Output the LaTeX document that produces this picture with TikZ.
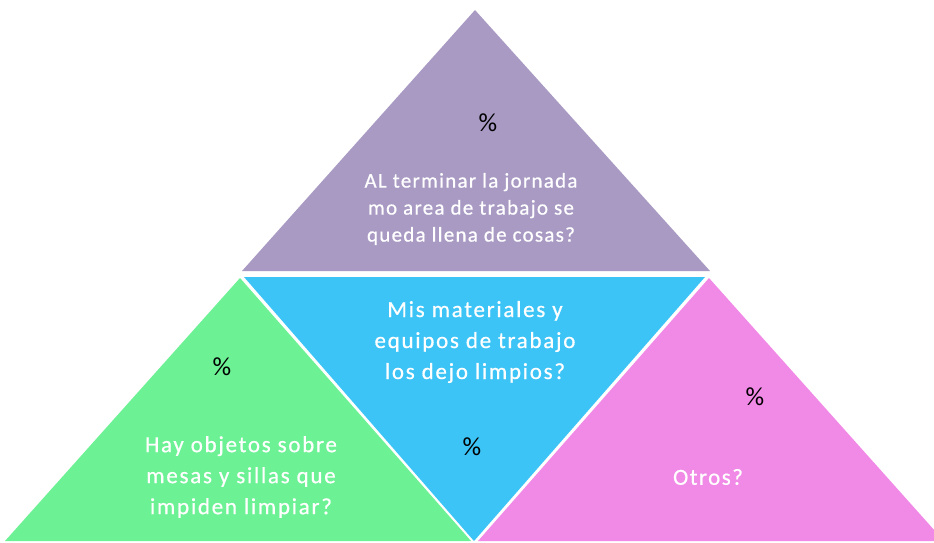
\documentclass[tikz,border=0pt]{standalone}
\usepackage{fontspec}
\setmainfont{Carlito}
\usetikzlibrary{positioning}
\definecolor{lilac}{HTML}{A99AC4}
\definecolor{skyblue}{HTML}{3CC4F6}
\definecolor{mint}{HTML}{6CF194}
\definecolor{orchid}{HTML}{F189E6}

\begin{document}
\begin{tikzpicture}[x=1pt,y=-1pt]
    \tikzstyle{question}=[text=white, align=center, inner sep=0pt, font=\fontsize{21}{27}\selectfont\addfontfeatures{LetterSpace=6,FakeBold=0.6}]
    \tikzstyle{wide}=[font=\fontsize{23}{31}\selectfont\addfontfeatures{LetterSpace=7.5,FakeBold=0.6}]
    \tikzstyle{short}=[font=\fontsize{23}{31}\selectfont\addfontfeatures{LetterSpace=6.5,FakeBold=0.6}]
    \tikzstyle{pct}=[text=black, inner sep=0pt, font=\fontsize{26}{28}\selectfont]

      \useasboundingbox (0,0) rectangle (934,543);
      \clip (0,0) rectangle (934,543);

      % corners of the four triangles
      \coordinate (apex) at (475,10);
      \coordinate (topl) at (242,271);
      \coordinate (topr) at (710,271);
      \coordinate (greentop) at (240,278);
      \coordinate (greenl) at (5,541);
      \coordinate (greenr) at (471,541);
      \coordinate (bluel) at (244,277);
      \coordinate (bluer) at (705,277);
      \coordinate (bluebot) at (474,541);
      \coordinate (pinktop) at (709,278);
      \coordinate (pinkl) at (478,541);
      \coordinate (pinkr) at (944,541);

      \fill[lilac] (apex) -- (topr) -- (topl) -- cycle;
      \fill[mint] (greentop) -- (greenr) -- (greenl) -- cycle;
      \fill[skyblue] (bluel) -- (bluer) -- (bluebot) -- cycle;
      \fill[orchid] (pinktop) -- (pinkr) -- (pinkl) -- cycle;

      \node[pct] (toppct) at (488,123) {\%};
      \node[question] (topq) at (471,209) {AL terminar la jornada\\mo area de trabajo se\\queda llena de cosas?};
      \node[question, wide] (blueq) at (475,342) {Mis materiales y\\equipos de trabajo\\los dejo limpios?};
      \node[pct] (bluepct) at (472,447) {\%};
      \node[pct] (greenpct) at (222,367) {\%};
      \node[question, wide] (greenq) at (241,477) {Hay objetos sobre\\mesas y sillas que\\impiden limpiar?};
      \node[pct] (pinkpct) at (755,397) {\%};
      \node[question, short] (pinkq) at (708,477) {Otros?};
    \end{tikzpicture}
\end{document}
